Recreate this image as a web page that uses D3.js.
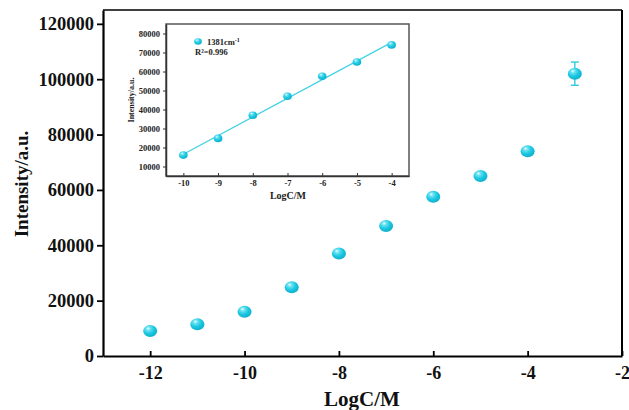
<!DOCTYPE html>
<html>
<head>
<meta charset="utf-8">
<script src="https://cdn.jsdelivr.net/npm/d3@7"></script>
<style>
	body { margin: 0; background: #fff; }
	svg text { font-family: "Liberation Serif", "Times New Roman", serif; font-weight: bold; }
</style>
</head>
<body>
<div id="graph-container"></div>
<script>
// main plot data
const logC = [-12, -11, -10, -9, -8, -7, -6, -5, -4, -3];
const intensity = [9000, 11500, 16000, 24800, 37000, 47000, 57500, 65000, 74000, 102000];
const intensityErr = [300, 400, 500, 600, 700, 800, 900, 1000, 1200, 4200];
const mainXTicks = [-12, -10, -8, -6, -4, -2];
const mainYTicks = [0, 20000, 40000, 60000, 80000, 100000, 120000];

// inset (linear range) data
const insetLogC = [-10, -9, -8, -7, -6, -5, -4];
const insetIntensity = [16000, 24800, 37000, 47000, 57500, 65000, 74000];
const insetErr = [800, 1000, 900, 1000, 1500, 1200, 1500];
const insetXTicks = [-10, -9, -8, -7, -6, -5, -4];
const insetYTicks = [10000, 20000, 30000, 40000, 50000, 60000, 70000, 80000];
const legendLabel = "1381cm";
const r2Label = "R²=0.996";

document.addEventListener("DOMContentLoaded", function () {
	builder();
});

function builder() {
	const w = 629;
	const h = 410;
	const fmt = d => String(d); // plain hyphen minus like the original

	const svg = d3.select("#graph-container")
		.append("svg")
		.attr("width", w)
		.attr("height", h);

	// sphere-looking marker gradient
	const defs = svg.append("defs");
	const grad = defs.append("radialGradient")
		.attr("id", "ball")
		.attr("cx", "40%").attr("cy", "35%").attr("r", "65%")
		.attr("fx", "35%").attr("fy", "28%");
	grad.append("stop").attr("offset", "0%").attr("stop-color", "#f4ffff");
	grad.append("stop").attr("offset", "22%").attr("stop-color", "#6fe3f2");
	grad.append("stop").attr("offset", "60%").attr("stop-color", "#1cc8e2");
	grad.append("stop").attr("offset", "100%").attr("stop-color", "#0fb0cc");

	// ---- main plot ----
	const m = { left: 103, right: 622, top: 10, bottom: 356 };
	const x = d3.scaleLinear().domain([-13, -2]).range([m.left, m.right]);
	const y = d3.scaleLinear().domain([0, 125000]).range([m.bottom, m.top]);

	// frame (top and right)
	svg.append("line").attr("x1", m.left).attr("x2", m.right).attr("y1", m.top).attr("y2", m.top)
		.attr("stroke", "#000").attr("stroke-width", 1.5);
	svg.append("line").attr("x1", m.right).attr("x2", m.right).attr("y1", m.top).attr("y2", m.bottom)
		.attr("stroke", "#000").attr("stroke-width", 2);

	const xAxis = svg.append("g")
		.attr("transform", `translate(0,${m.bottom})`)
		.call(d3.axisBottom(x).tickValues(mainXTicks).tickSizeInner(-5).tickSizeOuter(0).tickPadding(10)
			.tickFormat(fmt));
	xAxis.select(".domain").attr("stroke-width", 2.2);
	xAxis.selectAll(".tick line").attr("stroke-width", 1.8);
	xAxis.selectAll(".tick text").attr("font-size", 18).attr("font-family", "Liberation Serif").attr("fill", "#111");

	const yAxis = svg.append("g")
		.attr("transform", `translate(${m.left},0)`)
		.call(d3.axisLeft(y).tickValues(mainYTicks).tickSizeInner(6).tickSizeOuter(0).tickPadding(3)
			.tickFormat(fmt));
	yAxis.select(".domain").attr("stroke-width", 2.2);
	yAxis.selectAll(".tick line").attr("stroke-width", 1.8);
	yAxis.selectAll(".tick text").attr("font-size", 18.5).attr("font-family", "Liberation Serif").attr("fill", "#111");

	svg.append("text")
		.attr("x", 362).attr("y", 406)
		.attr("text-anchor", "middle")
		.attr("font-size", 21)
		.attr("fill", "#111")
		.text("LogC/M");

	svg.append("text")
		.attr("transform", "translate(28,184) rotate(-90)")
		.attr("text-anchor", "middle")
		.attr("font-size", 19)
		.attr("fill", "#111")
		.text("Intensity/a.u.");

	// error bars
	const eb = svg.append("g").attr("stroke", "#2fcbe0").attr("stroke-width", 1.4);
	logC.forEach((d, i) => {
		const cx = x(d);
		eb.append("line").attr("x1", cx).attr("x2", cx)
			.attr("y1", y(intensity[i] - intensityErr[i])).attr("y2", y(intensity[i] + intensityErr[i]));
		[-1, 1].forEach(s => {
			eb.append("line").attr("x1", cx - 4).attr("x2", cx + 4)
				.attr("y1", y(intensity[i] + s * intensityErr[i])).attr("y2", y(intensity[i] + s * intensityErr[i]));
		});
	});

	svg.append("g").selectAll("ellipse")
		.data(logC)
		.enter()
		.append("ellipse")
		.attr("cx", d => x(d))
		.attr("cy", (d, i) => y(intensity[i]))
		.attr("rx", 7)
		.attr("ry", 6)
		.attr("fill", "url(#ball)");

	// ---- inset ----
	const n = { left: 166, right: 409, top: 24, bottom: 176 };
	const ix = d3.scaleLinear().domain([-10.5, -3.5]).range([n.left, n.right]);
	const iy = d3.scaleLinear().domain([5000, 85000]).range([n.bottom, n.top]);

	svg.append("rect")
		.attr("x", n.left).attr("y", n.top)
		.attr("width", n.right - n.left).attr("height", n.bottom - n.top)
		.attr("fill", "#fff").attr("stroke", "#555").attr("stroke-width", 1.5);

	const ixAxis = svg.append("g")
		.attr("transform", `translate(0,${n.bottom})`)
		.call(d3.axisBottom(ix).tickValues(insetXTicks).tickSizeInner(-3).tickSizeOuter(0).tickPadding(4)
			.tickFormat(fmt));
	ixAxis.select(".domain").attr("stroke", "#333").attr("stroke-width", 1.5);
	ixAxis.selectAll(".tick line").attr("stroke", "#333");
	ixAxis.selectAll(".tick text").attr("font-size", 8.5).attr("font-family", "Liberation Serif").attr("fill", "#222");

	const iyAxis = svg.append("g")
		.attr("transform", `translate(${n.left},0)`)
		.call(d3.axisLeft(iy).tickValues(insetYTicks).tickSizeInner(3).tickSizeOuter(0).tickPadding(3)
			.tickFormat(fmt));
	iyAxis.select(".domain").attr("stroke", "#333").attr("stroke-width", 1.5);
	iyAxis.selectAll(".tick line").attr("stroke", "#333");
	iyAxis.selectAll(".tick text").attr("font-size", 8.5).attr("font-family", "Liberation Serif").attr("fill", "#222");

	svg.append("text")
		.attr("x", 288).attr("y", 199)
		.attr("text-anchor", "middle")
		.attr("font-size", 10)
		.attr("fill", "#222")
		.text("LogC/M");

	svg.append("text")
		.attr("transform", "translate(134,100) rotate(-90)")
		.attr("text-anchor", "middle")
		.attr("font-size", 8)
		.attr("fill", "#222")
		.text("Intensity/a.u.");

	// linear fit of the inset data
	const mx = d3.mean(insetLogC);
	const my = d3.mean(insetIntensity);
	const slope = d3.sum(insetLogC, (d, i) => (d - mx) * (insetIntensity[i] - my)) /
		d3.sum(insetLogC, d => (d - mx) * (d - mx));
	const fitX = d3.extent(insetLogC);
	svg.append("path")
		.datum(fitX)
		.attr("d", d3.line().x(d => ix(d)).y(d => iy(my + slope * (d - mx))))
		.attr("stroke", "#45d2e4")
		.attr("stroke-width", 1.3)
		.attr("fill", "none");

	const ieb = svg.append("g").attr("stroke", "#5fd6e6").attr("stroke-width", 1);
	insetLogC.forEach((d, i) => {
		const cx = ix(d);
		ieb.append("line").attr("x1", cx).attr("x2", cx)
			.attr("y1", iy(insetIntensity[i] - insetErr[i])).attr("y2", iy(insetIntensity[i] + insetErr[i]));
	});

	svg.append("g").selectAll("ellipse")
		.data(insetLogC)
		.enter()
		.append("ellipse")
		.attr("cx", d => ix(d))
		.attr("cy", (d, i) => iy(insetIntensity[i]))
		.attr("rx", 4.3)
		.attr("ry", 3.8)
		.attr("fill", "url(#ball)");

	// legend
	svg.append("ellipse").attr("cx", 198).attr("cy", 41.5).attr("rx", 3.8).attr("ry", 3.3).attr("fill", "url(#ball)");
	const lg = svg.append("text").attr("x", 207).attr("y", 44.5).attr("font-size", 8.5).attr("fill", "#222");
	lg.append("tspan").text(legendLabel);
	lg.append("tspan").attr("dy", -3).attr("font-size", 6).text("-1");
	svg.append("text").attr("x", 195).attr("y", 55).attr("font-size", 8.5).attr("fill", "#222").text(r2Label);
}
</script>
</body>
</html>
